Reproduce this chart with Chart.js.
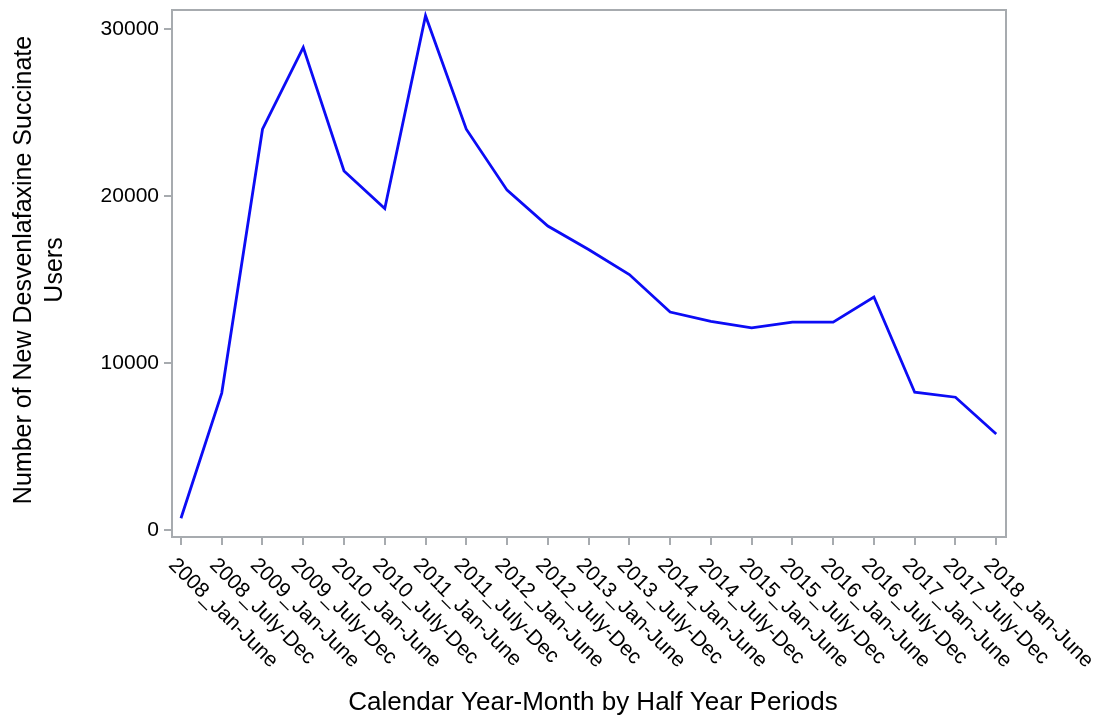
<!DOCTYPE html>
<html>
<head>
<meta charset="utf-8">
<script src="https://cdn.jsdelivr.net/npm/chart.js@4.4.1/dist/chart.umd.min.js"></script>
<style>
  html, body { margin: 0; padding: 0; background: #fff; }
  canvas { display: block; }
</style>
</head>
<body>
<canvas id="myChart" width="1101" height="719"></canvas>
<script>
// half-year periods on the x axis
const periods = [
  "2008_Jan-June", "2008_July-Dec", "2009_Jan-June", "2009_July-Dec",
  "2010_Jan-June", "2010_July-Dec", "2011_Jan-June", "2011_July-Dec",
  "2012_Jan-June", "2012_July-Dec", "2013_Jan-June", "2013_July-Dec",
  "2014_Jan-June", "2014_July-Dec", "2015_Jan-June", "2015_July-Dec",
  "2016_Jan-June", "2016_July-Dec", "2017_Jan-June", "2017_July-Dec",
  "2018_Jan-June"
];
// new users per period
const newUsers = [
  700, 8200, 24000, 28900, 21500, 19250, 30800, 24000,
  20350, 18200, 16800, 15300, 13050, 12500, 12100, 12450,
  12450, 13950, 8250, 7950, 5750
];
const yTicks = [0, 10000, 20000, 30000];

const yTitle = ["Number of New Desvenlafaxine Succinate", "Users"];
const xTitle = "Calendar Year-Month by Half Year Periods";

const axisGray = "#a7abaf";
const FONT = "'Liberation Sans', Arial, sans-serif";

// frame, rotated period labels, axis titles
const decorations = {
  id: "decorations",
  afterDraw(chart) {
    const ctx = chart.ctx;
    const area = chart.chartArea;
    const xs = chart.scales.x;
    ctx.save();
    ctx.strokeStyle = axisGray;
    ctx.lineWidth = 2;
    ctx.beginPath();
    ctx.moveTo(area.left, area.top);
    ctx.lineTo(area.right, area.top);
    ctx.lineTo(area.right, area.bottom);
    ctx.stroke();

    ctx.fillStyle = "#000";
    ctx.font = "21px " + FONT;
    ctx.textAlign = "left";
    ctx.textBaseline = "middle";
    periods.forEach((p, i) => {
      const x = xs.getPixelForValue(i);
      ctx.save();
      ctx.translate(x - 9, area.bottom + 25);
      ctx.rotate(Math.PI / 4);
      ctx.fillText(p, 0, 0);
      ctx.restore();
    });

    ctx.font = "26px " + FONT;
    ctx.textAlign = "center";
    ctx.fillText(xTitle, 593, 703);

    ctx.font = "25px " + FONT;
    ctx.save();
    ctx.translate(24, 270);
    ctx.rotate(-Math.PI / 2);
    ctx.fillText(yTitle[0], 0, 0);
    ctx.fillText(yTitle[1], 0, 31);
    ctx.restore();
    ctx.restore();
  }
};

new Chart(document.getElementById("myChart").getContext("2d"), {
  type: "line",
  data: {
    datasets: [{
      data: newUsers.map((v, i) => ({ x: i, y: v })),
      borderColor: "#0c0cf5",
      borderWidth: 2.8,
      pointRadius: 0,
      tension: 0,
      fill: false
    }]
  },
  options: {
    responsive: false,
    devicePixelRatio: 1,
    animation: false,
    layout: { padding: { left: 0, right: 95, top: 10, bottom: 0 } },
    plugins: { legend: { display: false }, tooltip: { enabled: false } },
    scales: {
      x: {
        type: "linear",
        min: -0.22,
        max: 20.24,
        afterBuildTicks: (s) => { s.ticks = periods.map((p, i) => ({ value: i })); },
        afterFit: (s) => { s.height = 182; s.paddingLeft = 0; s.paddingRight = 0; },
        ticks: { display: false },
        grid: { drawOnChartArea: false, drawTicks: true, tickLength: 8, color: axisGray, lineWidth: 2 },
        border: { color: axisGray, width: 2 }
      },
      y: {
        min: -420,
        max: 31140,
        afterBuildTicks: (s) => { s.ticks = yTicks.map(v => ({ value: v })); },
        afterFit: (s) => { s.width = 172; s.paddingTop = 0; s.paddingBottom = 0; },
        ticks: {
          color: "#000",
          font: { size: 21, family: FONT },
          padding: 5,
          callback: (v) => String(v)
        },
        grid: { drawOnChartArea: false, drawTicks: true, tickLength: 8, color: axisGray, lineWidth: 2 },
        border: { color: axisGray, width: 2 }
      }
    }
  },
  plugins: [decorations]
});
</script>
</body>
</html>
